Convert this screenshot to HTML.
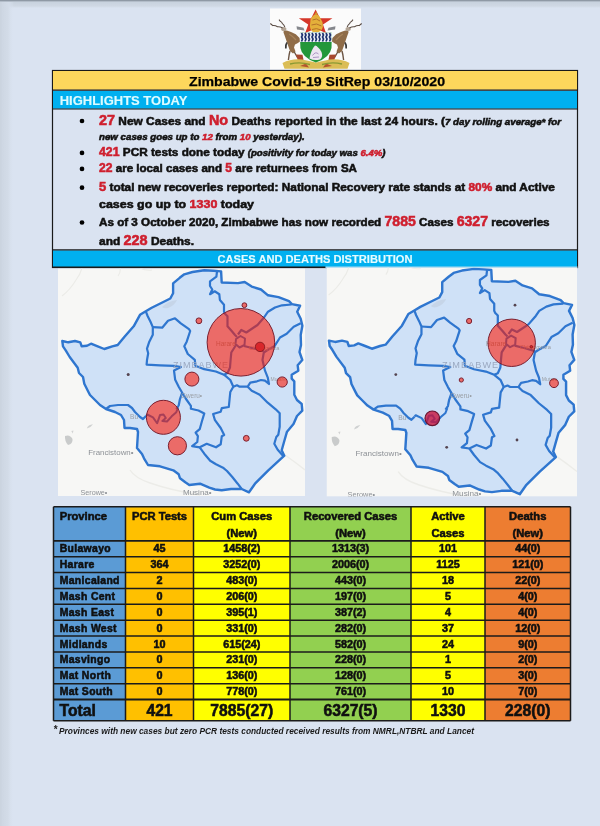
<!DOCTYPE html>
<html><head><meta charset="utf-8"><title>Zimbabwe Covid-19 SitRep 03/10/2020</title>
<style>
*{margin:0;padding:0;box-sizing:border-box}
html,body{width:600px;height:826px;overflow:hidden;background:#dae3f1}
svg{position:absolute;left:0;top:0;display:block;filter:blur(0.35px)}
svg text{font-family:"Liberation Sans", Arial, sans-serif}
</style></head><body>
<svg width="600" height="826" viewBox="0 0 600 826">
<defs>
<linearGradient id="tg" x1="0" y1="0" x2="0" y2="1"><stop offset="0" stop-color="#c8d2de"/><stop offset="0.7" stop-color="#d0d9e5"/><stop offset="1" stop-color="#dae3f1"/></linearGradient>
<linearGradient id="lg" x1="0" y1="0" x2="1" y2="0"><stop offset="0" stop-color="#ccd5e1"/><stop offset="0.6" stop-color="#d3dce8"/><stop offset="1" stop-color="#dae3f1" stop-opacity="0"/></linearGradient>
</defs>
<rect width="600" height="826" fill="#dae3f1"/>
<rect x="0" y="2" width="600" height="6" fill="url(#tg)"/>
<rect x="0" y="0" width="14" height="826" fill="url(#lg)"/>
<rect x="0" y="0" width="1.5" height="826" fill="#cbd4df"/>
<rect x="0" y="0" width="600" height="1" fill="#8f99a5"/>
<rect x="0" y="1" width="600" height="1" fill="#b3bdc9"/>

<rect x="270" y="8.5" width="91" height="61" fill="#fbfbfb"/>
<g>
 <path d="M283.8 30 L287.5 30.8 L291 32 L295.8 34.2 L299.6 38 L300 41.5 L297.5 43.2 L295 44.5 L294 47.5 L295.5 51.5 L293 53.5 L290 51 L288.2 46 L286.5 41 L284.8 36 L283.5 32.5 Z" fill="#8f6c48"/>
 <path d="M289.2 34 Q293 36.5 296 40" stroke="#a8845c" stroke-width="1.2" fill="none"/>
 <path d="M290 51 L289.2 54.5 L288.4 60 M294.3 52 L296 55 L297.5 57.5" stroke="#6b5443" stroke-width="1.4" fill="none"/>
 <ellipse cx="283.8" cy="29" rx="2.7" ry="2.1" fill="#b3a596"/>
 <path d="M282.6 28 Q280 26.5 277.5 26.8 Q275 25.2 272.8 25.6 Q271.5 24.5 270.3 23.5 M284.8 27 Q284 24.8 282.4 23.6 Q282 22 280.2 21.2 Q279.6 20.2 279 19.6" stroke="#5a4c44" stroke-width="1.05" fill="none"/>
 <path d="M287 42.5 Q285.3 45 285.8 48.5" stroke="#3a3a3a" stroke-width="1.7" fill="none"/>
 <path d="M296.5 26.3 L303.5 27.8 L304.5 30.5 L297 29.6 Z" fill="#85878c"/>
 <path d="M296 54.5 L302.5 54.8 L303.5 59.8 L298 61 Z" fill="#a8482e"/>
</g>
<g transform="translate(632,0) scale(-1,1)">
 <path d="M283.8 30 L287.5 30.8 L291 32 L295.8 34.2 L299.6 38 L300 41.5 L297.5 43.2 L295 44.5 L294 47.5 L295.5 51.5 L293 53.5 L290 51 L288.2 46 L286.5 41 L284.8 36 L283.5 32.5 Z" fill="#8f6c48"/>
 <path d="M289.2 34 Q293 36.5 296 40" stroke="#a8845c" stroke-width="1.2" fill="none"/>
 <path d="M290 51 L289.2 54.5 L288.4 60 M294.3 52 L296 55 L297.5 57.5" stroke="#6b5443" stroke-width="1.4" fill="none"/>
 <ellipse cx="283.8" cy="29" rx="2.7" ry="2.1" fill="#b3a596"/>
 <path d="M282.6 28 Q280 26.5 277.5 26.8 Q275 25.2 272.8 25.6 Q271.5 24.5 270.3 23.5 M284.8 27 Q284 24.8 282.4 23.6 Q282 22 280.2 21.2 Q279.6 20.2 279 19.6" stroke="#5a4c44" stroke-width="1.05" fill="none"/>
 <path d="M287 42.5 Q285.3 45 285.8 48.5" stroke="#3a3a3a" stroke-width="1.7" fill="none"/>
 <path d="M296.5 26.3 L303.5 27.8 L304.5 30.5 L297 29.6 Z" fill="#85878c"/>
 <path d="M296 54.5 L302.5 54.8 L303.5 59.8 L298 61 Z" fill="#a8482e"/>
</g>
<path d="M282.5 63 Q291 58.5 302 59.5 L316 62.5 L330 59.5 Q341 58.5 349.5 63 L347.5 68.8 L284.5 68.8 Z" fill="#dbbd55"/>
<path d="M300 66 L306 63.5 L309 67.5 Z M332 66 L326 63.5 L323 67.5 Z" fill="#b5552f"/>
<path d="M290 64 Q300 61.5 310 64.5 M342 64 Q332 61.5 322 64.5" stroke="#8a9a34" stroke-width="1.4" fill="none"/>
<polygon points="315.6,9.6 320,18.2 332.4,18.2 323,24.6 326,33 315.6,28.5 305.2,33 308.2,24.6 298.8,18.2 311.2,18.2" fill="#d5372a"/>
<path d="M310.5 19.5 Q312.5 15 316 14 Q319.5 15 320.5 18.5 Q323 21.5 323 26 Q322.5 30.5 318.5 32 L313 32 Q309.5 29.5 310 25 Z" fill="#e4b03a"/>
<path d="M312.5 20 Q316.5 17.5 320 21 M311.5 25 Q316.5 22.5 321.5 26 M312 29.5 Q316.5 27.5 321 30" stroke="#b06a28" stroke-width="0.9" fill="none"/>
<path d="M314.5 14.5 L316.3 11.5 L317.5 14.8 Z" fill="#d0962c"/>
<path d="M299.9 32.8 L331.8 32.8 L331.5 48 Q330 57.5 315.9 62.5 Q302 57.5 300.4 48 Z" fill="#23973a"/>
<rect x="299.9" y="32.8" width="31.9" height="9.2" fill="#f2f5fb"/>
<path d="M301.5 33 l1 2 l-1 2 l1 2 l-1 2.5 M305 33 l1 2 l-1 2 l1 2 l-1 2.5 M308.5 33 l1 2 l-1 2 l1 2 l-1 2.5 M312 33 l1 2 l-1 2 l1 2 l-1 2.5 M315.5 33 l1 2 l-1 2 l1 2 l-1 2.5 M319 33 l1 2 l-1 2 l1 2 l-1 2.5 M322.5 33 l1 2 l-1 2 l1 2 l-1 2.5 M326 33 l1 2 l-1 2 l1 2 l-1 2.5 M329.5 33 l1 2 l-1 2 l1 2 l-1 2.5" stroke="#1f3470" stroke-width="1.7" fill="none"/>
<path d="M309.5 58.5 Q311 50 315 45.5 Q318 46 321.5 52 Q323.5 57 320 59.5 Q314 61 309.5 58.5 Z" fill="#ede6f1"/>
<path d="M312.5 55.5 Q315.5 51 318.5 54 M313 57.5 L319 57" stroke="#a58abf" stroke-width="0.9" fill="none"/>

<rect x="52.5" y="70.5" width="525" height="197" fill="none" stroke="#1a1a1a" stroke-width="1.2"/><rect x="53" y="71" width="524" height="18.8" fill="#fdd75c"/><rect x="53" y="90.8" width="524" height="17.9" fill="#00b0f0"/><line x1="52.5" y1="90.2" x2="577.5" y2="90.2" stroke="#1a1a1a" stroke-width="1.2"/><line x1="52.5" y1="109" x2="577.5" y2="109" stroke="#1a1a1a" stroke-width="1.2"/><rect x="53" y="250.3" width="524" height="17" fill="#00b0f0"/><line x1="52.5" y1="249.9" x2="577.5" y2="249.9" stroke="#1a1a1a" stroke-width="1.2"/><line x1="52.5" y1="267.3" x2="325.5" y2="267.3" stroke="#1a1a1a" stroke-width="1.4"/><line x1="325.5" y1="267.3" x2="577.5" y2="267.3" stroke="#a9d9f0" stroke-width="1.4"/><text x="317" y="86.2" font-size="13" font-weight="bold" fill="#000" text-anchor="middle" textLength="256" lengthAdjust="spacingAndGlyphs" stroke="#000" stroke-width="0.25">Zimbabwe Covid-19 SitRep 03/10/2020</text><text x="59.7" y="105" font-size="13.7" font-weight="bold" fill="#dcfbff" textLength="127.7" lengthAdjust="spacingAndGlyphs" stroke="#dcfbff" stroke-width="0.15">HIGHLIGHTS TODAY</text><text x="315" y="263" font-size="11" font-weight="bold" fill="#e4fcff" text-anchor="middle" textLength="195" lengthAdjust="spacingAndGlyphs" stroke="#e4fcff" stroke-width="0.15">CASES AND DEATHS DISTRIBUTION</text><circle cx="82" cy="121" r="2.35" fill="#000"/><text x="99" y="125.2" font-weight="bold" stroke-width="0.55" textLength="462" lengthAdjust="spacingAndGlyphs"><tspan font-size="13.8" fill="#cf1f2e" stroke="#cf1f2e">27</tspan><tspan font-size="11.4" fill="#111" stroke="#111"> New Cases and </tspan><tspan font-size="13.8" fill="#cf1f2e" stroke="#cf1f2e">No</tspan><tspan font-size="11.4" fill="#111" stroke="#111"> Deaths reported in the last 24 hours. (</tspan><tspan font-size="9.3" fill="#111" stroke="#111" font-style="italic">7 day rolling average* for</tspan></text><text x="99" y="140.3" font-weight="bold" stroke-width="0.55" textLength="205.6" lengthAdjust="spacingAndGlyphs"><tspan font-size="9.3" fill="#111" stroke="#111" font-style="italic">new cases goes up to </tspan><tspan font-size="9.3" fill="#cf1f2e" stroke="#cf1f2e" font-style="italic">12</tspan><tspan font-size="9.3" fill="#111" stroke="#111" font-style="italic"> from </tspan><tspan font-size="9.3" fill="#cf1f2e" stroke="#cf1f2e" font-style="italic">10</tspan><tspan font-size="9.3" fill="#111" stroke="#111" font-style="italic"> yesterday).</tspan></text><circle cx="82" cy="152.9" r="2.35" fill="#000"/><text x="99" y="156.1" font-weight="bold" stroke-width="0.55" textLength="286.6" lengthAdjust="spacingAndGlyphs"><tspan font-size="11.9" fill="#cf1f2e" stroke="#cf1f2e">421</tspan><tspan font-size="11.4" fill="#111" stroke="#111"> PCR tests done today </tspan><tspan font-size="9.3" fill="#111" stroke="#111" font-style="italic">(positivity for today was </tspan><tspan font-size="9.3" fill="#cf1f2e" stroke="#cf1f2e" font-style="italic">6.4%</tspan><tspan font-size="9.3" fill="#111" stroke="#111" font-style="italic">)</tspan></text><circle cx="82" cy="168.9" r="2.35" fill="#000"/><text x="99" y="171.9" font-weight="bold" stroke-width="0.55" textLength="258" lengthAdjust="spacingAndGlyphs"><tspan font-size="11.9" fill="#cf1f2e" stroke="#cf1f2e">22</tspan><tspan font-size="11.4" fill="#111" stroke="#111"> are local cases and </tspan><tspan font-size="11.9" fill="#cf1f2e" stroke="#cf1f2e">5</tspan><tspan font-size="11.4" fill="#111" stroke="#111"> are returnees from SA</tspan></text><circle cx="82" cy="187.7" r="2.35" fill="#000"/><text x="99" y="190.6" font-weight="bold" stroke-width="0.55" textLength="455.9" lengthAdjust="spacingAndGlyphs"><tspan font-size="12.5" fill="#cf1f2e" stroke="#cf1f2e">5</tspan><tspan font-size="11.4" fill="#111" stroke="#111"> total new recoveries reported: National Recovery rate stands at </tspan><tspan font-size="11.4" fill="#cf1f2e" stroke="#cf1f2e">80%</tspan><tspan font-size="11.4" fill="#111" stroke="#111"> and Active</tspan></text><text x="99" y="207.8" font-weight="bold" stroke-width="0.55" textLength="155" lengthAdjust="spacingAndGlyphs"><tspan font-size="11.4" fill="#111" stroke="#111">cases go up to </tspan><tspan font-size="11.4" fill="#cf1f2e" stroke="#cf1f2e">1330</tspan><tspan font-size="11.4" fill="#111" stroke="#111"> today</tspan></text><circle cx="82" cy="222.5" r="2.35" fill="#000"/><text x="99" y="225.6" font-weight="bold" stroke-width="0.55" textLength="450.6" lengthAdjust="spacingAndGlyphs"><tspan font-size="11.4" fill="#111" stroke="#111">As of 3 October 2020, Zimbabwe has now recorded </tspan><tspan font-size="13.8" fill="#cf1f2e" stroke="#cf1f2e">7885</tspan><tspan font-size="11.4" fill="#111" stroke="#111"> Cases </tspan><tspan font-size="13.8" fill="#cf1f2e" stroke="#cf1f2e">6327</tspan><tspan font-size="11.4" fill="#111" stroke="#111"> recoveries</tspan></text><text x="99" y="245" font-weight="bold" stroke-width="0.55" textLength="95" lengthAdjust="spacingAndGlyphs"><tspan font-size="11.4" fill="#111" stroke="#111">and </tspan><tspan font-size="13.8" fill="#cf1f2e" stroke="#cf1f2e">228</tspan><tspan font-size="11.4" fill="#111" stroke="#111"> Deaths.</tspan></text>
<clipPath id="cl"><rect x="58" y="268.5" width="247" height="227.5"/></clipPath>
<clipPath id="cr"><rect x="326.5" y="267.6" width="250.5" height="229"/></clipPath>
<g clip-path="url(#cl)">
<rect x="58" y="268.5" width="247" height="227.5" fill="#f7f7f5"/>
<path d="M65 436 Q70 434 72.5 439 Q73 444 68 445 Q64.5 441 65 436 Z" fill="#c9cbcb"/>
<path d="M86.8 428.5 Q88 424.5 93 424.2 Q91 427.5 86.8 428.5 Z" fill="#cfd1d1"/>
<path d="M71.3 431 L73.5 430.6 L72.8 433.4 Z" fill="#d2d3d3"/>
<path d="M82 268 Q80 275 76 280 Q70 290 62 296 M120 268 Q121 272 118 276 M140 268 Q146 271 152 270" stroke="#ebebe7" stroke-width="1.1" fill="none"/>
<path d="M130 470 Q135 478 150 483 Q170 490 200 495 M285 455 Q295 462 305 470" stroke="#ececE8" stroke-width="1.4" fill="none"/>

<text x="88.2" y="454.6" font-size="7.9" fill="#8d9196">Francistown•</text>
<text x="80.5" y="495" font-size="7.2" fill="#8d9196">Serowe•</text>
<text x="183" y="494.5" font-size="8" fill="#8d9196">Musina•</text>
<polygon points="62.3,341.0 68.3,342.3 75.0,341.0 80.3,342.3 81.7,346.3 87.0,345.7 91.0,343.7 97.7,346.3 104.3,349.0 112.3,346.3 117.7,345.0 124.3,337.0 133.7,326.3 140.0,314.8 145.8,311.3 151.7,307.8 163.3,302.0 170.3,298.5 173.1,293.2 173.1,283.4 179.7,277.8 184.3,274.3 192.5,272.0 204.2,270.3 213.5,270.8 221.1,271.4 221.7,282.5 238.0,283.1 244.7,282.0 251.7,286.6 261.0,289.5 268.0,295.3 278.5,297.1 289.0,301.2 291.9,304.1 300.1,305.8 297.2,311.7 300.7,318.7 302.4,325.7 300.7,335.0 301.0,345.0 299.5,352.0 302.3,360.0 297.7,365.3 298.3,370.7 291.7,374.7 291.7,378.7 294.3,381.3 294.3,394.7 297.0,400.0 301.7,404.0 302.3,410.7 297.0,416.0 293.5,424.0 287.0,431.7 284.3,441.0 281.7,450.3 284.3,455.7 268.3,470.3 255.0,483.7 249.0,492.3 241.7,489.0 231.0,489.0 221.7,490.3 215.0,489.5 209.3,487.7 200.0,483.7 189.3,485.0 185.3,482.3 180.0,478.3 178.7,474.3 173.3,470.3 160.0,466.3 148.0,465.0 144.0,458.3 142.0,454.0 137.0,448.0 137.5,440.0 138.0,432.0 137.0,429.0 130.0,428.0 124.5,428.0 124.0,420.0 121.0,415.0 115.0,412.0 106.0,409.0 100.0,405.0 95.0,400.0 90.0,395.0 88.3,391.7 84.3,383.7 83.0,377.0 79.0,373.0 77.7,367.7 69.7,357.0 65.7,350.3 63.0,346.3" fill="#cfe1f7" stroke="#2f76cf" stroke-width="2.4" stroke-linejoin="round"/>
<polyline points="217.0,271.5 216.4,276.7 210.0,281.3 210.0,286.0 212.3,289.5 210.0,294.2 214.7,291.3 219.3,294.2 219.9,300.0 224.0,304.7 224.0,311.7 225.0,313.8 227.5,316.3 227.5,326.3 231.9,331.3 235.0,335.0 237.0,337.0" fill="none" stroke="#2f76cf" stroke-width="2.2" stroke-linejoin="round"/>
<polyline points="291.5,304.5 282.0,305.3 275.0,307.5 268.0,311.7 264.0,317.5 257.5,325.0 246.3,332.5 241.3,330.0 238.0,334.5" fill="none" stroke="#2f76cf" stroke-width="2.2" stroke-linejoin="round"/>
<polyline points="236.0,345.0 231.3,352.5 230.6,360.0 230.0,367.5 227.5,373.1 224.0,374.7 215.8,371.5 204.2,369.2 195.4,365.7 194.8,359.8 187.8,354.0 184.3,346.3 186.7,341.7 190.2,331.0 189.0,329.2 180.8,323.3 175.0,318.3 168.0,320.7 162.2,327.7 152.8,327.1" fill="none" stroke="#2f76cf" stroke-width="2.2" stroke-linejoin="round"/>
<polyline points="145.8,311.3 147.6,316.0 150.5,321.8 152.8,327.1 152.8,334.7 149.3,341.7 147.0,348.7 148.2,353.3 147.0,360.0 146.6,364.7 160.0,365.3 174.0,365.8 181.0,367.0 174.0,370.5 175.2,379.8 178.7,386.8 182.2,392.7 186.0,399.0 190.9,405.8 190.9,408.8 198.5,410.5 204.3,413.4 202.0,421.0 199.7,429.2 195.6,432.7 197.9,436.2 197.3,442.0 192.1,446.1 199.7,447.3 206.7,443.8 216.0,447.3 220.7,444.3 221.8,436.2 224.2,435.0 220.7,428.0 214.8,419.8 213.1,414.0 220.7,411.7 221.8,408.2 228.8,407.0 229.5,400.0 230.3,392.0 233.3,386.7" fill="none" stroke="#2f76cf" stroke-width="2.2" stroke-linejoin="round"/>
<polyline points="224.0,374.7 230.3,380.0 233.3,386.7 237.0,385.3 239.7,386.7 247.7,386.7 250.3,382.7 257.0,381.3 261.0,380.0 265.0,380.7 269.0,384.0 267.7,377.3 265.0,370.7 263.7,365.3 262.5,360.0 263.8,352.5 267.5,350.0 274.4,346.3 280.0,337.5 286.7,333.8 293.7,326.8 300.7,323.3" fill="none" stroke="#2f76cf" stroke-width="2.2" stroke-linejoin="round"/>
<polyline points="244.0,346.0 255.0,348.8 263.8,351.3" fill="none" stroke="#2f76cf" stroke-width="2.2" stroke-linejoin="round"/>
<polyline points="247.7,386.7 251.7,390.7 259.7,394.7 267.7,402.7 275.7,409.3 279.7,413.3 279.7,426.7 278.3,434.7 276.3,437.0 274.3,443.7 277.7,449.7 283.0,455.7" fill="none" stroke="#2f76cf" stroke-width="2.2" stroke-linejoin="round"/>
<polyline points="199.7,447.3 204.3,453.7 210.2,460.7 216.0,464.2 223.0,467.7 227.0,471.0 232.3,477.0 237.7,483.7 241.7,489.0" fill="none" stroke="#2f76cf" stroke-width="2.2" stroke-linejoin="round"/>
<polyline points="182.2,392.7 179.8,399.7 178.7,405.5 176.3,409.0" fill="none" stroke="#2f76cf" stroke-width="2.2" stroke-linejoin="round"/>
<polyline points="106.0,409.0 110.0,406.0 118.0,405.0 128.0,405.0 132.0,408.0 135.0,412.0 140.0,417.0 143.0,419.0 146.0,416.0" fill="none" stroke="#2f76cf" stroke-width="2.2" stroke-linejoin="round"/>
<polyline points="146.0,416.0 147.2,414.5 153.0,417.4 157.1,423.3 160.0,415.1 163.5,414.5 165.8,418.0 162.3,420.9 167.0,421.5 171.7,416.3 176.3,412.2 178.1,407.5" fill="none" stroke="#2f76cf" stroke-width="2" stroke-linejoin="round"/>
<polygon points="236.0,339.0 240.5,336.0 245.0,338.5 244.5,345.0 239.5,347.5 235.5,344.0" fill="none" stroke="#2f76cf" stroke-width="2" stroke-linejoin="round"/>
<path d="M162 307 Q168 301 177 300 Q175 305 168 308 Q164 309 162 307 Z" fill="#c6d5e8"/>
<text x="216" y="346" font-size="6.5" fill="#8f959c">Harare</text>
<text x="249" y="349.5" font-size="5.6" fill="#9a9fa5">Chitungwiza</text>
<text x="181" y="397.6" font-size="6.4" fill="#9a9fa5">Gweru•</text>
<text x="270.5" y="381" font-size="5" fill="#9a9fa5">Mutare</text>
<text x="130" y="419" font-size="6.6" fill="#9a9fa5">Bu</text>

<text x="173" y="368" font-size="9" fill="#9aa8c0" letter-spacing="1">ZIMBABWE</text>
<circle cx="240.9" cy="342.3" r="33.8" fill="rgba(255,22,0,0.58)" stroke="#7a2030" stroke-width="1"/>
<circle cx="163.4" cy="417.3" r="17.0" fill="rgba(255,22,0,0.58)" stroke="#7a2030" stroke-width="1"/>
<circle cx="177.4" cy="445.8" r="9.1" fill="rgba(255,22,0,0.58)" stroke="#7a2030" stroke-width="1"/>
<circle cx="191.9" cy="379.1" r="7.0" fill="rgba(255,22,0,0.58)" stroke="#7a2030" stroke-width="1"/>
<circle cx="282.2" cy="382.0" r="5.1" fill="rgba(255,22,0,0.58)" stroke="#7a2030" stroke-width="1"/>
<circle cx="260.0" cy="346.9" r="4.7" fill="#d9262b" stroke="#8a1a20" stroke-width="0.9"/>
<circle cx="198.9" cy="320.8" r="2.9" fill="rgba(255,22,0,0.58)" stroke="#7a2030" stroke-width="1"/>
<circle cx="244.4" cy="305.2" r="2.4" fill="rgba(255,22,0,0.58)" stroke="#7a2030" stroke-width="1"/>
<circle cx="246.3" cy="438.3" r="2.9" fill="rgba(255,22,0,0.58)" stroke="#7a2030" stroke-width="1"/>
<circle cx="128.2" cy="374.6" r="1.5" fill="#554450"/>
</g>
<g clip-path="url(#cr)">
<rect x="326.5" y="267.6" width="250.5" height="229" fill="#f7f7f5"/>
<g transform="matrix(1.022,0,0,1.015,265.3,-5.5)">
<path d="M65 436 Q70 434 72.5 439 Q73 444 68 445 Q64.5 441 65 436 Z" fill="#c9cbcb"/>
<path d="M86.8 428.5 Q88 424.5 93 424.2 Q91 427.5 86.8 428.5 Z" fill="#cfd1d1"/>
<path d="M71.3 431 L73.5 430.6 L72.8 433.4 Z" fill="#d2d3d3"/>
<path d="M82 268 Q80 275 76 280 Q70 290 62 296 M120 268 Q121 272 118 276 M140 268 Q146 271 152 270" stroke="#ebebe7" stroke-width="1.1" fill="none"/>
<path d="M130 470 Q135 478 150 483 Q170 490 200 495 M285 455 Q295 462 305 470" stroke="#ececE8" stroke-width="1.4" fill="none"/>

<text x="88.2" y="454.6" font-size="7.9" fill="#8d9196">Francistown•</text>
<text x="80.5" y="495" font-size="7.2" fill="#8d9196">Serowe•</text>
<text x="183" y="494.5" font-size="8" fill="#8d9196">Musina•</text>
<polygon points="62.3,341.0 68.3,342.3 75.0,341.0 80.3,342.3 81.7,346.3 87.0,345.7 91.0,343.7 97.7,346.3 104.3,349.0 112.3,346.3 117.7,345.0 124.3,337.0 133.7,326.3 140.0,314.8 145.8,311.3 151.7,307.8 163.3,302.0 170.3,298.5 173.1,293.2 173.1,283.4 179.7,277.8 184.3,274.3 192.5,272.0 204.2,270.3 213.5,270.8 221.1,271.4 221.7,282.5 238.0,283.1 244.7,282.0 251.7,286.6 261.0,289.5 268.0,295.3 278.5,297.1 289.0,301.2 291.9,304.1 300.1,305.8 297.2,311.7 300.7,318.7 302.4,325.7 300.7,335.0 301.0,345.0 299.5,352.0 302.3,360.0 297.7,365.3 298.3,370.7 291.7,374.7 291.7,378.7 294.3,381.3 294.3,394.7 297.0,400.0 301.7,404.0 302.3,410.7 297.0,416.0 293.5,424.0 287.0,431.7 284.3,441.0 281.7,450.3 284.3,455.7 268.3,470.3 255.0,483.7 249.0,492.3 241.7,489.0 231.0,489.0 221.7,490.3 215.0,489.5 209.3,487.7 200.0,483.7 189.3,485.0 185.3,482.3 180.0,478.3 178.7,474.3 173.3,470.3 160.0,466.3 148.0,465.0 144.0,458.3 142.0,454.0 137.0,448.0 137.5,440.0 138.0,432.0 137.0,429.0 130.0,428.0 124.5,428.0 124.0,420.0 121.0,415.0 115.0,412.0 106.0,409.0 100.0,405.0 95.0,400.0 90.0,395.0 88.3,391.7 84.3,383.7 83.0,377.0 79.0,373.0 77.7,367.7 69.7,357.0 65.7,350.3 63.0,346.3" fill="#cfe1f7" stroke="#2f76cf" stroke-width="2.4" stroke-linejoin="round"/>
<polyline points="217.0,271.5 216.4,276.7 210.0,281.3 210.0,286.0 212.3,289.5 210.0,294.2 214.7,291.3 219.3,294.2 219.9,300.0 224.0,304.7 224.0,311.7 225.0,313.8 227.5,316.3 227.5,326.3 231.9,331.3 235.0,335.0 237.0,337.0" fill="none" stroke="#2f76cf" stroke-width="2.2" stroke-linejoin="round"/>
<polyline points="291.5,304.5 282.0,305.3 275.0,307.5 268.0,311.7 264.0,317.5 257.5,325.0 246.3,332.5 241.3,330.0 238.0,334.5" fill="none" stroke="#2f76cf" stroke-width="2.2" stroke-linejoin="round"/>
<polyline points="236.0,345.0 231.3,352.5 230.6,360.0 230.0,367.5 227.5,373.1 224.0,374.7 215.8,371.5 204.2,369.2 195.4,365.7 194.8,359.8 187.8,354.0 184.3,346.3 186.7,341.7 190.2,331.0 189.0,329.2 180.8,323.3 175.0,318.3 168.0,320.7 162.2,327.7 152.8,327.1" fill="none" stroke="#2f76cf" stroke-width="2.2" stroke-linejoin="round"/>
<polyline points="145.8,311.3 147.6,316.0 150.5,321.8 152.8,327.1 152.8,334.7 149.3,341.7 147.0,348.7 148.2,353.3 147.0,360.0 146.6,364.7 160.0,365.3 174.0,365.8 181.0,367.0 174.0,370.5 175.2,379.8 178.7,386.8 182.2,392.7 186.0,399.0 190.9,405.8 190.9,408.8 198.5,410.5 204.3,413.4 202.0,421.0 199.7,429.2 195.6,432.7 197.9,436.2 197.3,442.0 192.1,446.1 199.7,447.3 206.7,443.8 216.0,447.3 220.7,444.3 221.8,436.2 224.2,435.0 220.7,428.0 214.8,419.8 213.1,414.0 220.7,411.7 221.8,408.2 228.8,407.0 229.5,400.0 230.3,392.0 233.3,386.7" fill="none" stroke="#2f76cf" stroke-width="2.2" stroke-linejoin="round"/>
<polyline points="224.0,374.7 230.3,380.0 233.3,386.7 237.0,385.3 239.7,386.7 247.7,386.7 250.3,382.7 257.0,381.3 261.0,380.0 265.0,380.7 269.0,384.0 267.7,377.3 265.0,370.7 263.7,365.3 262.5,360.0 263.8,352.5 267.5,350.0 274.4,346.3 280.0,337.5 286.7,333.8 293.7,326.8 300.7,323.3" fill="none" stroke="#2f76cf" stroke-width="2.2" stroke-linejoin="round"/>
<polyline points="244.0,346.0 255.0,348.8 263.8,351.3" fill="none" stroke="#2f76cf" stroke-width="2.2" stroke-linejoin="round"/>
<polyline points="247.7,386.7 251.7,390.7 259.7,394.7 267.7,402.7 275.7,409.3 279.7,413.3 279.7,426.7 278.3,434.7 276.3,437.0 274.3,443.7 277.7,449.7 283.0,455.7" fill="none" stroke="#2f76cf" stroke-width="2.2" stroke-linejoin="round"/>
<polyline points="199.7,447.3 204.3,453.7 210.2,460.7 216.0,464.2 223.0,467.7 227.0,471.0 232.3,477.0 237.7,483.7 241.7,489.0" fill="none" stroke="#2f76cf" stroke-width="2.2" stroke-linejoin="round"/>
<polyline points="182.2,392.7 179.8,399.7 178.7,405.5 176.3,409.0" fill="none" stroke="#2f76cf" stroke-width="2.2" stroke-linejoin="round"/>
<polyline points="106.0,409.0 110.0,406.0 118.0,405.0 128.0,405.0 132.0,408.0 135.0,412.0 140.0,417.0 143.0,419.0 146.0,416.0" fill="none" stroke="#2f76cf" stroke-width="2.2" stroke-linejoin="round"/>
<polyline points="146.0,416.0 147.2,414.5 153.0,417.4 157.1,423.3 160.0,415.1 163.5,414.5 165.8,418.0 162.3,420.9 167.0,421.5 171.7,416.3 176.3,412.2 178.1,407.5" fill="none" stroke="#2f76cf" stroke-width="2" stroke-linejoin="round"/>
<polygon points="236.0,339.0 240.5,336.0 245.0,338.5 244.5,345.0 239.5,347.5 235.5,344.0" fill="none" stroke="#2f76cf" stroke-width="2" stroke-linejoin="round"/>
<path d="M162 307 Q168 301 177 300 Q175 305 168 308 Q164 309 162 307 Z" fill="#c6d5e8"/>
<text x="216" y="346" font-size="6.5" fill="#8f959c">Harare</text>
<text x="249" y="349.5" font-size="5.6" fill="#9a9fa5">Chitungwiza</text>
<text x="181" y="397.6" font-size="6.4" fill="#9a9fa5">Gweru•</text>
<text x="270.5" y="381" font-size="5" fill="#9a9fa5">Mutare</text>
<text x="130" y="419" font-size="6.6" fill="#9a9fa5">Bu</text>

<text x="173" y="368" font-size="9" fill="#9aa8c0" letter-spacing="1">ZIMBABWE</text>
</g>
<circle cx="511.7" cy="342.8" r="23.7" fill="rgba(255,22,0,0.58)" stroke="#7a2030" stroke-width="1"/>
<circle cx="432.3" cy="418.3" r="7.3" fill="rgba(200,20,60,0.8)" stroke="#6a1530" stroke-width="1.2"/>
<circle cx="554.0" cy="383.2" r="4.4" fill="rgba(255,22,0,0.58)" stroke="#7a2030" stroke-width="1"/>
<circle cx="469.1" cy="321.0" r="2.6" fill="rgba(255,22,0,0.58)" stroke="#7a2030" stroke-width="1"/>
<circle cx="461.3" cy="380.0" r="2.1" fill="rgba(255,22,0,0.58)" stroke="#7a2030" stroke-width="1"/>
<circle cx="531.3" cy="346.8" r="1.3" fill="#d9262b" stroke="#8a1a20" stroke-width="0.9"/>
<circle cx="515.0" cy="305.2" r="1.4" fill="#554450"/>
<circle cx="395.8" cy="374.6" r="1.4" fill="#554450"/>
<circle cx="446.7" cy="447.3" r="1.4" fill="#554450"/>
<circle cx="517.0" cy="440.0" r="1.4" fill="#554450"/>
</g>
<rect x="53.5" y="506.8" width="72.0" height="213.99999999999994" fill="#5b9bd5"/><rect x="125.5" y="506.8" width="68.0" height="213.99999999999994" fill="#ffc000"/><rect x="193.5" y="506.8" width="96.5" height="213.99999999999994" fill="#ffff00"/><rect x="290" y="506.8" width="121" height="213.99999999999994" fill="#92d050"/><rect x="411" y="506.8" width="74" height="213.99999999999994" fill="#ffff00"/><rect x="485" y="506.8" width="85.5" height="213.99999999999994" fill="#ed7d31"/><line x1="53.5" y1="506.8" x2="570.5" y2="506.8" stroke="#1b1b1b" stroke-width="1.6"/><line x1="53.5" y1="540.9" x2="570.5" y2="540.9" stroke="#1b1b1b" stroke-width="1.6"/><line x1="53.5" y1="556.76" x2="570.5" y2="556.76" stroke="#1b1b1b" stroke-width="1.5"/><line x1="53.5" y1="572.62" x2="570.5" y2="572.62" stroke="#1b1b1b" stroke-width="1.5"/><line x1="53.5" y1="588.48" x2="570.5" y2="588.48" stroke="#1b1b1b" stroke-width="1.5"/><line x1="53.5" y1="604.34" x2="570.5" y2="604.34" stroke="#1b1b1b" stroke-width="1.5"/><line x1="53.5" y1="620.20" x2="570.5" y2="620.20" stroke="#1b1b1b" stroke-width="1.5"/><line x1="53.5" y1="636.06" x2="570.5" y2="636.06" stroke="#1b1b1b" stroke-width="1.5"/><line x1="53.5" y1="651.92" x2="570.5" y2="651.92" stroke="#1b1b1b" stroke-width="1.5"/><line x1="53.5" y1="667.78" x2="570.5" y2="667.78" stroke="#1b1b1b" stroke-width="1.5"/><line x1="53.5" y1="683.64" x2="570.5" y2="683.64" stroke="#1b1b1b" stroke-width="1.5"/><line x1="53.5" y1="699.5" x2="570.5" y2="699.5" stroke="#1b1b1b" stroke-width="1.8"/><line x1="53.5" y1="720.8" x2="570.5" y2="720.8" stroke="#1b1b1b" stroke-width="1.6"/><line x1="53.5" y1="506.8" x2="53.5" y2="720.8" stroke="#1b1b1b" stroke-width="1.5"/><line x1="125.5" y1="506.8" x2="125.5" y2="720.8" stroke="#1b1b1b" stroke-width="1.5"/><line x1="193.5" y1="506.8" x2="193.5" y2="720.8" stroke="#1b1b1b" stroke-width="1.5"/><line x1="290" y1="506.8" x2="290" y2="720.8" stroke="#1b1b1b" stroke-width="1.5"/><line x1="411" y1="506.8" x2="411" y2="720.8" stroke="#1b1b1b" stroke-width="1.5"/><line x1="485" y1="506.8" x2="485" y2="720.8" stroke="#1b1b1b" stroke-width="1.5"/><line x1="570.5" y1="506.8" x2="570.5" y2="720.8" stroke="#1b1b1b" stroke-width="1.5"/><text x="59.7" y="520.3" font-size="11.2" font-weight="bold" fill="#101010" stroke="#101010" stroke-width="0.55">Province</text><text x="159.5" y="520.3" font-size="11.2" font-weight="bold" fill="#101010" text-anchor="middle" stroke="#101010" stroke-width="0.55">PCR Tests</text><text x="241.75" y="520.3" font-size="11.2" font-weight="bold" fill="#101010" text-anchor="middle" stroke="#101010" stroke-width="0.55">Cum Cases</text><text x="350.5" y="520.3" font-size="11.2" font-weight="bold" fill="#101010" text-anchor="middle" stroke="#101010" stroke-width="0.55">Recovered Cases</text><text x="448.0" y="520.3" font-size="11.2" font-weight="bold" fill="#101010" text-anchor="middle" stroke="#101010" stroke-width="0.55">Active</text><text x="527.75" y="520.3" font-size="11.2" font-weight="bold" fill="#101010" text-anchor="middle" stroke="#101010" stroke-width="0.55">Deaths</text><text x="241.75" y="537" font-size="11.2" font-weight="bold" fill="#101010" text-anchor="middle" stroke="#101010" stroke-width="0.55">(New)</text><text x="350.5" y="537" font-size="11.2" font-weight="bold" fill="#101010" text-anchor="middle" stroke="#101010" stroke-width="0.55">(New)</text><text x="448.0" y="537" font-size="11.2" font-weight="bold" fill="#101010" text-anchor="middle" stroke="#101010" stroke-width="0.55">Cases</text><text x="527.75" y="537" font-size="11.2" font-weight="bold" fill="#101010" text-anchor="middle" stroke="#101010" stroke-width="0.55">(New)</text><text x="59.7" y="552.4" font-size="10.4" font-weight="bold" fill="#101010" letter-spacing="0.35" stroke="#101010" stroke-width="0.55">Bulawayo</text><text x="159.5" y="552.4" font-size="10.8" font-weight="bold" fill="#101010" text-anchor="middle" stroke="#101010" stroke-width="0.55">45</text><text x="241.75" y="552.4" font-size="10.8" font-weight="bold" fill="#101010" text-anchor="middle" stroke="#101010" stroke-width="0.55">1458(2)</text><text x="350.5" y="552.4" font-size="10.8" font-weight="bold" fill="#101010" text-anchor="middle" stroke="#101010" stroke-width="0.55">1313(3)</text><text x="448.0" y="552.4" font-size="10.8" font-weight="bold" fill="#101010" text-anchor="middle" stroke="#101010" stroke-width="0.55">101</text><text x="527.75" y="552.4" font-size="10.8" font-weight="bold" fill="#101010" text-anchor="middle" stroke="#101010" stroke-width="0.55">44(0)</text><text x="59.7" y="568.26" font-size="10.4" font-weight="bold" fill="#101010" letter-spacing="0.35" stroke="#101010" stroke-width="0.55">Harare</text><text x="159.5" y="568.26" font-size="10.8" font-weight="bold" fill="#101010" text-anchor="middle" stroke="#101010" stroke-width="0.55">364</text><text x="241.75" y="568.26" font-size="10.8" font-weight="bold" fill="#101010" text-anchor="middle" stroke="#101010" stroke-width="0.55">3252(0)</text><text x="350.5" y="568.26" font-size="10.8" font-weight="bold" fill="#101010" text-anchor="middle" stroke="#101010" stroke-width="0.55">2006(0)</text><text x="448.0" y="568.26" font-size="10.8" font-weight="bold" fill="#101010" text-anchor="middle" stroke="#101010" stroke-width="0.55">1125</text><text x="527.75" y="568.26" font-size="10.8" font-weight="bold" fill="#101010" text-anchor="middle" stroke="#101010" stroke-width="0.55">121(0)</text><text x="59.7" y="584.12" font-size="10.4" font-weight="bold" fill="#101010" letter-spacing="0.35" stroke="#101010" stroke-width="0.55">Manicaland</text><text x="159.5" y="584.12" font-size="10.8" font-weight="bold" fill="#101010" text-anchor="middle" stroke="#101010" stroke-width="0.55">2</text><text x="241.75" y="584.12" font-size="10.8" font-weight="bold" fill="#101010" text-anchor="middle" stroke="#101010" stroke-width="0.55">483(0)</text><text x="350.5" y="584.12" font-size="10.8" font-weight="bold" fill="#101010" text-anchor="middle" stroke="#101010" stroke-width="0.55">443(0)</text><text x="448.0" y="584.12" font-size="10.8" font-weight="bold" fill="#101010" text-anchor="middle" stroke="#101010" stroke-width="0.55">18</text><text x="527.75" y="584.12" font-size="10.8" font-weight="bold" fill="#101010" text-anchor="middle" stroke="#101010" stroke-width="0.55">22(0)</text><text x="59.7" y="599.98" font-size="10.4" font-weight="bold" fill="#101010" letter-spacing="0.35" stroke="#101010" stroke-width="0.55">Mash Cent</text><text x="159.5" y="599.98" font-size="10.8" font-weight="bold" fill="#101010" text-anchor="middle" stroke="#101010" stroke-width="0.55">0</text><text x="241.75" y="599.98" font-size="10.8" font-weight="bold" fill="#101010" text-anchor="middle" stroke="#101010" stroke-width="0.55">206(0)</text><text x="350.5" y="599.98" font-size="10.8" font-weight="bold" fill="#101010" text-anchor="middle" stroke="#101010" stroke-width="0.55">197(0)</text><text x="448.0" y="599.98" font-size="10.8" font-weight="bold" fill="#101010" text-anchor="middle" stroke="#101010" stroke-width="0.55">5</text><text x="527.75" y="599.98" font-size="10.8" font-weight="bold" fill="#101010" text-anchor="middle" stroke="#101010" stroke-width="0.55">4(0)</text><text x="59.7" y="615.84" font-size="10.4" font-weight="bold" fill="#101010" letter-spacing="0.35" stroke="#101010" stroke-width="0.55">Mash East</text><text x="159.5" y="615.84" font-size="10.8" font-weight="bold" fill="#101010" text-anchor="middle" stroke="#101010" stroke-width="0.55">0</text><text x="241.75" y="615.84" font-size="10.8" font-weight="bold" fill="#101010" text-anchor="middle" stroke="#101010" stroke-width="0.55">395(1)</text><text x="350.5" y="615.84" font-size="10.8" font-weight="bold" fill="#101010" text-anchor="middle" stroke="#101010" stroke-width="0.55">387(2)</text><text x="448.0" y="615.84" font-size="10.8" font-weight="bold" fill="#101010" text-anchor="middle" stroke="#101010" stroke-width="0.55">4</text><text x="527.75" y="615.84" font-size="10.8" font-weight="bold" fill="#101010" text-anchor="middle" stroke="#101010" stroke-width="0.55">4(0)</text><text x="59.7" y="631.7" font-size="10.4" font-weight="bold" fill="#101010" letter-spacing="0.35" stroke="#101010" stroke-width="0.55">Mash West</text><text x="159.5" y="631.7" font-size="10.8" font-weight="bold" fill="#101010" text-anchor="middle" stroke="#101010" stroke-width="0.55">0</text><text x="241.75" y="631.7" font-size="10.8" font-weight="bold" fill="#101010" text-anchor="middle" stroke="#101010" stroke-width="0.55">331(0)</text><text x="350.5" y="631.7" font-size="10.8" font-weight="bold" fill="#101010" text-anchor="middle" stroke="#101010" stroke-width="0.55">282(0)</text><text x="448.0" y="631.7" font-size="10.8" font-weight="bold" fill="#101010" text-anchor="middle" stroke="#101010" stroke-width="0.55">37</text><text x="527.75" y="631.7" font-size="10.8" font-weight="bold" fill="#101010" text-anchor="middle" stroke="#101010" stroke-width="0.55">12(0)</text><text x="59.7" y="647.56" font-size="10.4" font-weight="bold" fill="#101010" letter-spacing="0.35" stroke="#101010" stroke-width="0.55">Midlands</text><text x="159.5" y="647.56" font-size="10.8" font-weight="bold" fill="#101010" text-anchor="middle" stroke="#101010" stroke-width="0.55">10</text><text x="241.75" y="647.56" font-size="10.8" font-weight="bold" fill="#101010" text-anchor="middle" stroke="#101010" stroke-width="0.55">615(24)</text><text x="350.5" y="647.56" font-size="10.8" font-weight="bold" fill="#101010" text-anchor="middle" stroke="#101010" stroke-width="0.55">582(0)</text><text x="448.0" y="647.56" font-size="10.8" font-weight="bold" fill="#101010" text-anchor="middle" stroke="#101010" stroke-width="0.55">24</text><text x="527.75" y="647.56" font-size="10.8" font-weight="bold" fill="#101010" text-anchor="middle" stroke="#101010" stroke-width="0.55">9(0)</text><text x="59.7" y="663.42" font-size="10.4" font-weight="bold" fill="#101010" letter-spacing="0.35" stroke="#101010" stroke-width="0.55">Masvingo</text><text x="159.5" y="663.42" font-size="10.8" font-weight="bold" fill="#101010" text-anchor="middle" stroke="#101010" stroke-width="0.55">0</text><text x="241.75" y="663.42" font-size="10.8" font-weight="bold" fill="#101010" text-anchor="middle" stroke="#101010" stroke-width="0.55">231(0)</text><text x="350.5" y="663.42" font-size="10.8" font-weight="bold" fill="#101010" text-anchor="middle" stroke="#101010" stroke-width="0.55">228(0)</text><text x="448.0" y="663.42" font-size="10.8" font-weight="bold" fill="#101010" text-anchor="middle" stroke="#101010" stroke-width="0.55">1</text><text x="527.75" y="663.42" font-size="10.8" font-weight="bold" fill="#101010" text-anchor="middle" stroke="#101010" stroke-width="0.55">2(0)</text><text x="59.7" y="679.28" font-size="10.4" font-weight="bold" fill="#101010" letter-spacing="0.35" stroke="#101010" stroke-width="0.55">Mat North</text><text x="159.5" y="679.28" font-size="10.8" font-weight="bold" fill="#101010" text-anchor="middle" stroke="#101010" stroke-width="0.55">0</text><text x="241.75" y="679.28" font-size="10.8" font-weight="bold" fill="#101010" text-anchor="middle" stroke="#101010" stroke-width="0.55">136(0)</text><text x="350.5" y="679.28" font-size="10.8" font-weight="bold" fill="#101010" text-anchor="middle" stroke="#101010" stroke-width="0.55">128(0)</text><text x="448.0" y="679.28" font-size="10.8" font-weight="bold" fill="#101010" text-anchor="middle" stroke="#101010" stroke-width="0.55">5</text><text x="527.75" y="679.28" font-size="10.8" font-weight="bold" fill="#101010" text-anchor="middle" stroke="#101010" stroke-width="0.55">3(0)</text><text x="59.7" y="695.14" font-size="10.4" font-weight="bold" fill="#101010" letter-spacing="0.35" stroke="#101010" stroke-width="0.55">Mat South</text><text x="159.5" y="695.14" font-size="10.8" font-weight="bold" fill="#101010" text-anchor="middle" stroke="#101010" stroke-width="0.55">0</text><text x="241.75" y="695.14" font-size="10.8" font-weight="bold" fill="#101010" text-anchor="middle" stroke="#101010" stroke-width="0.55">778(0)</text><text x="350.5" y="695.14" font-size="10.8" font-weight="bold" fill="#101010" text-anchor="middle" stroke="#101010" stroke-width="0.55">761(0)</text><text x="448.0" y="695.14" font-size="10.8" font-weight="bold" fill="#101010" text-anchor="middle" stroke="#101010" stroke-width="0.55">10</text><text x="527.75" y="695.14" font-size="10.8" font-weight="bold" fill="#101010" text-anchor="middle" stroke="#101010" stroke-width="0.55">7(0)</text><text x="59.5" y="716.3" font-size="15.7" font-weight="bold" fill="#101010" stroke="#101010" stroke-width="0.55">Total</text><text x="159.5" y="716.3" font-size="15.7" font-weight="bold" fill="#101010" text-anchor="middle" stroke="#101010" stroke-width="0.55">421</text><text x="241.75" y="716.3" font-size="15.7" font-weight="bold" fill="#101010" text-anchor="middle" stroke="#101010" stroke-width="0.55">7885(27)</text><text x="350.5" y="716.3" font-size="15.7" font-weight="bold" fill="#101010" text-anchor="middle" stroke="#101010" stroke-width="0.55">6327(5)</text><text x="448.0" y="716.3" font-size="15.7" font-weight="bold" fill="#101010" text-anchor="middle" stroke="#101010" stroke-width="0.55">1330</text><text x="527.75" y="716.3" font-size="15.7" font-weight="bold" fill="#101010" text-anchor="middle" stroke="#101010" stroke-width="0.55">228(0)</text><text x="53.8" y="732.5" font-size="10" font-weight="bold" fill="#1a1a1a">*</text><text x="59" y="733.6" font-size="9.2" font-style="italic" font-weight="bold" fill="#1a1a1a" textLength="415" lengthAdjust="spacingAndGlyphs">Provinces with new cases but zero PCR tests conducted received results from NMRL,NTBRL and Lancet</text>
</svg>
</body></html>
